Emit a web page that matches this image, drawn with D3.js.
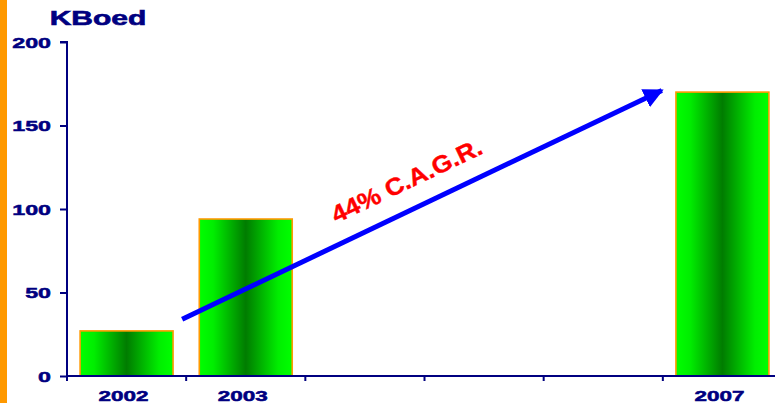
<!DOCTYPE html>
<html>
<head>
<meta charset="utf-8">
<script src="https://cdn.jsdelivr.net/npm/d3@7"></script>
<style>
  html, body { margin: 0; padding: 0; background: #fff; }
  svg { display: block; }
  text { font-family: "Liberation Sans", Arial, sans-serif; font-weight: bold; }
</style>
</head>
<body>
<svg id="chart" width="777" height="403"></svg>
<script>
// Production in thousand barrels of oil equivalent per day
const years = ["2002", "2003", "2004", "2005", "2006", "2007"];
const production = [27, 94, null, null, null, 170];
const yTicks = [0, 50, 100, 150, 200];
const unitLabel = "KBoed";
const growthLabel = "44% C.A.G.R.";

const navy = "#000080";
const svg = d3.select("#chart");

const x = d3.scaleBand().domain(years).range([67, 782]).paddingInner(0).paddingOuter(0);
const y = d3.scaleLinear().domain([0, 200]).range([376, 42]);

// Orange strip along the left edge
svg.append("rect").attr("x", 0).attr("y", 0).attr("width", 7).attr("height", 403).attr("fill", "#ff9900");

// Bar gradient: bright green at the edges, dark green in the middle
const defs = svg.append("defs");
const grad = defs.append("linearGradient").attr("id", "barGrad")
  .attr("x1", "0%").attr("x2", "100%").attr("y1", "0%").attr("y2", "0%");
[[0, "#00ff00"], [0.15, "#00ee00"], [0.5, "#007c00"], [0.85, "#00ee00"], [1, "#00ff00"]]
  .forEach(([o, c]) => grad.append("stop").attr("offset", o).attr("stop-color", c));

// Bars
const bw = x.bandwidth();
const bars = years.map((yr, i) => ({ yr, v: production[i] })).filter(d => d.v != null);
svg.append("g").selectAll("rect").data(bars).join("rect")
  .attr("x", d => x(d.yr) + bw * 0.11)
  .attr("width", bw * 0.78)
  .attr("y", d => y(d.v))
  .attr("height", d => y(0) - y(d.v))
  .attr("fill", "url(#barGrad)")
  .attr("stroke", "#ff9900")
  .attr("stroke-width", 1.6);

// Y axis
const yAxis = svg.append("g").attr("transform", "translate(67,0)")
  .call(d3.axisLeft(y).tickValues(yTicks).tickSize(7).tickPadding(0).tickFormat(d3.format("d")));
yAxis.select(".domain").attr("stroke", navy).attr("stroke-width", 2).attr("d", `M-7,${y(200)}H0V${y(0)}`);
yAxis.selectAll(".tick line").attr("stroke", navy).attr("stroke-width", 2);
yAxis.selectAll(".tick text").each(function () {
  const t = d3.select(this);
  t.attr("x", null).attr("dy", null)
    .attr("transform", "translate(-16,5) scale(1.55,1)")
    .attr("text-anchor", "end")
    .attr("fill", navy).attr("stroke", navy).attr("stroke-width", 0.5)
    .attr("font-size", 15);
});

// X axis: ticks at category boundaries, labels only for years with data
const xAxisG = svg.append("g").attr("transform", `translate(0,${y(0)})`);
xAxisG.append("line").attr("x1", 66).attr("x2", 775).attr("y1", 0).attr("y2", 0)
  .attr("stroke", navy).attr("stroke-width", 2);
xAxisG.selectAll("line.tk").data(years).join("line").attr("class", "tk")
  .attr("x1", d => x(d)).attr("x2", d => x(d)).attr("y1", 0).attr("y2", 5)
  .attr("stroke", navy).attr("stroke-width", 2);
xAxisG.selectAll("text").data(bars).join("text")
  .attr("transform", d => `translate(${x(d.yr) + bw / 2 - 3},25) scale(1.55,1)`)
  .attr("text-anchor", "middle").attr("fill", navy)
  .attr("stroke", navy).attr("stroke-width", 0.5).attr("font-size", 14.5)
  .text(d => d.yr);

// Unit label
svg.append("text").attr("transform", "translate(98,25) scale(1.5,1)")
  .attr("text-anchor", "middle").attr("fill", navy)
  .attr("stroke", navy).attr("stroke-width", 0.6).attr("font-size", 20)
  .text(unitLabel);

// Growth arrow from 2003 towards 2007
const x0 = x("2003") - 4, y0 = y(34);
const x1 = x("2007") - 1, y1 = y(171);
defs.append("marker").attr("id", "arrowHead")
  .attr("viewBox", "0 0 10 10").attr("refX", 9).attr("refY", 5)
  .attr("markerWidth", 4).attr("markerHeight", 4).attr("orient", "auto")
  .attr("markerUnits", "strokeWidth")
  .append("path").attr("d", "M0,0L10,5L0,10Z").attr("fill", "#0000ff");
svg.append("line")
  .attr("x1", x0).attr("y1", y0).attr("x2", x1).attr("y2", y1)
  .attr("stroke", "#0000ff").attr("stroke-width", 5)
  .attr("marker-end", "url(#arrowHead)");

// Growth rate label along the arrow
const ang = Math.atan2(y1 - y0, x1 - x0) * 180 / Math.PI;
const lx = x("2004") + bw * 0.85, ly = y(117);
svg.append("text")
  .attr("transform", `translate(${lx},${ly}) rotate(${ang}) scale(1.08,1)`)
  .attr("text-anchor", "middle").attr("dy", "0.35em")
  .attr("fill", "#ff0000").attr("stroke", "#ff0000").attr("stroke-width", 0.4)
  .attr("font-size", 24)
  .text(growthLabel);
</script>
</body>
</html>
